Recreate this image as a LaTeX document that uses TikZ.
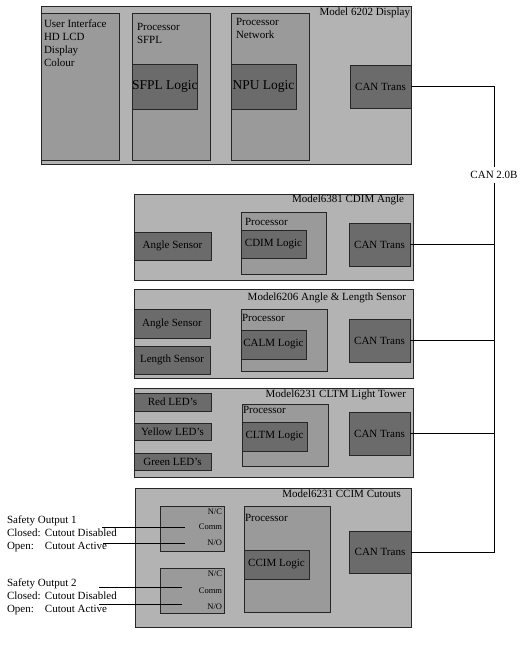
\documentclass[tikz,border=0pt]{standalone}
\usepackage{fontspec}
\setmainfont{Liberation Serif}
\usepackage{tikz}
\usetikzlibrary{positioning}
\definecolor{unitgray}{HTML}{B3B3B3}
\definecolor{procgray}{HTML}{9A9A9A}
\definecolor{logicgray}{HTML}{6B6B6B}
\tikzset{
x=1pt, y=-1pt, % pixel-like units, y runs downwards
every node/.style={font=\fontsize{11}{13}\selectfont, inner sep=0pt, outer sep=0pt},
unit/.style={draw=black!85, line width=0.9pt, fill=unitgray, anchor=north west}, % one module
proc/.style={draw=black!85, line width=0.8pt, fill=procgray, anchor=north west}, % processor / relay
logic/.style={draw=black!85, line width=0.8pt, fill=logicgray, anchor=north west, align=center}, % dark blocks
txt/.style={anchor=north west, align=left}, % free text in a box
title/.style={anchor=north east}, % module name
pin/.style={anchor=east, font=\fontsize{8.5}{10}\selectfont},
wire/.style={draw=black, line width=0.9pt},
}
\begin{document}
\begin{tikzpicture}
    \useasboundingbox (0,0) rectangle (523,652);
    % Model 6202 display
    \node[unit, minimum width=370pt, minimum height=158pt] (disp) at (41,6) {};
    \node[proc, minimum width=78pt, minimum height=147pt] (ui) at (41,13) {};
    \node[proc, minimum width=78pt, minimum height=147pt] (sfplproc) at (132,13) {};
    \node[proc, minimum width=78pt, minimum height=147pt] (netproc) at (231,13) {};
    \node[logic, minimum width=65pt, minimum height=45pt, font=\fontsize{13.5}{15}\selectfont] (sfpl) at (132,64) {SFPL Logic};
    \node[logic, minimum width=65pt, minimum height=45pt, font=\fontsize{13.5}{15}\selectfont] (npu) at (231,64) {NPU Logic};
    \node[logic, minimum width=61pt, minimum height=43pt] (can1) at (350,65) {CAN Trans};
    \node[title] (disptitle) at (410,8) {Model 6202 Display};
    \node[txt] (uitext) at (44,20) {User Interface\\HD LCD\\Display\\Colour};
    \node[txt] (sfpltext) at (137,23) {Processor\\SFPL};
    \node[txt] (nettext) at (236,18) {Processor\\Network};

    % Model6381 CDIM
    \node[unit, minimum width=279pt, minimum height=86pt] (cdim) at (134,194) {};
    \node[logic, minimum width=77pt, minimum height=28pt] (angle1) at (134,232) {Angle Sensor};
    \node[proc, minimum width=85pt, minimum height=62pt] (cdimproc) at (241,212) {};
    \node[logic, minimum width=65pt, minimum height=28pt] (cdimlogic) at (241,230) {CDIM Logic};
    \node[logic, minimum width=61pt, minimum height=43pt] (can2) at (349,223) {CAN Trans};
    \node[title] (cdimtitle) at (404,195) {Model6381 CDIM Angle};
    \node[txt] (cdimptext) at (245,218) {Processor};

    % Model6206 CALM
    \node[unit, minimum width=279pt, minimum height=89pt] (calm) at (134,289) {};
    \node[logic, minimum width=76pt, minimum height=29pt] (angle2) at (134,309) {Angle Sensor};
    \node[logic, minimum width=76pt, minimum height=28pt] (length) at (134,346) {Length Sensor};
    \node[proc, minimum width=86pt, minimum height=62pt] (calmproc) at (241,309) {};
    \node[logic, minimum width=65pt, minimum height=29pt] (calmlogic) at (241,330) {CALM Logic};
    \node[logic, minimum width=61pt, minimum height=43pt] (can3) at (349,319) {CAN Trans};
    \node[title] (calmtitle) at (406,293) {Model6206 Angle \& Length Sensor};
    \node[txt] (calmptext) at (242,314) {Processor};

    % Model6231 CLTM
    \node[unit, minimum width=279pt, minimum height=89pt] (cltm) at (134,388) {};
    \node[logic, minimum width=77pt, minimum height=18pt] (red) at (134,393) {Red LED's};
    \node[logic, minimum width=77pt, minimum height=17pt] (yellow) at (134,423) {Yellow LED's};
    \node[logic, minimum width=77pt, minimum height=17pt] (green) at (134,453) {Green LED's};
    \node[proc, minimum width=86pt, minimum height=62pt] (cltmproc) at (242,404) {};
    \node[logic, minimum width=65pt, minimum height=29pt] (cltmlogic) at (242,422) {CLTM Logic};
    \node[logic, minimum width=61pt, minimum height=43pt] (can4) at (349,412) {CAN Trans};
    \node[title] (cltmtitle) at (406,390) {Model6231 CLTM Light Tower};
    \node[txt] (cltmptext) at (243,406) {Processor};

    % Model6231 CCIM
    \node[unit, minimum width=276pt, minimum height=139pt] (ccim) at (135,488) {};
    \node[proc, minimum width=64pt, minimum height=45pt] (relay1) at (160,506) {};
    \node[proc, minimum width=64pt, minimum height=45pt] (relay2) at (160,568) {};
    \node[proc, minimum width=86pt, minimum height=106pt] (ccimproc) at (244,506) {};
    \node[logic, minimum width=65pt, minimum height=29pt] (ccimlogic) at (244,550) {CCIM Logic};
    \node[logic, minimum width=62pt, minimum height=42pt] (can5) at (349,531) {CAN Trans};
    \node[title] (ccimtitle) at (401,490) {Model6231 CCIM Cutouts};
    \node[txt] (ccimptext) at (245,514) {Processor};
    \node[pin] (nc1) at (222,512) {N/C};
    \node[pin] (comm1) at (222,527) {Comm};
    \node[pin] (no1) at (222,543) {N/O};
    \node[pin] (nc2) at (222,574) {N/C};
    \node[pin] (comm2) at (222,591) {Comm};
    \node[pin] (no2) at (222,607) {N/O};

    % safety outputs
    \node[txt] (so1) at (7,516) {Safety Output 1\\\makebox[38pt][l]{Closed:}Cutout Disabled\\\makebox[38pt][l]{Open:}Cutout Active};
    \node[txt] (so2) at (7,579) {Safety Output 2\\\makebox[38pt][l]{Closed:}Cutout Disabled\\\makebox[38pt][l]{Open:}Cutout Active};
    \coordinate (so1a) at (102,527);
    \coordinate (so1b) at (103,543);
    \coordinate (r1a) at (185,527);
    \coordinate (r1b) at (185,543);
    \coordinate (so2a) at (99,587);
    \coordinate (so2b) at (99,604);
    \coordinate (r2a) at (182,587);
    \coordinate (r2b) at (182,604);
    \draw[wire] (so1a) -- (r1a);
    \draw[wire] (so1b) -- (r1b);
    \draw[wire] (so2a) -- (r2a);
    \draw[wire] (so2b) -- (r2b);

    % CAN bus
    \node[inner sep=4pt] (canbus) at (494,175) {CAN 2.0B};
    \draw[wire] (can1) -| (canbus.north);
    \draw[wire] (can2) -| (canbus.south);
    \draw[wire] (can3) -| (canbus.south);
    \draw[wire] (can4) -| (canbus.south);
    \draw[wire] (can5) -| (canbus.south);
\end{tikzpicture}
\end{document}
